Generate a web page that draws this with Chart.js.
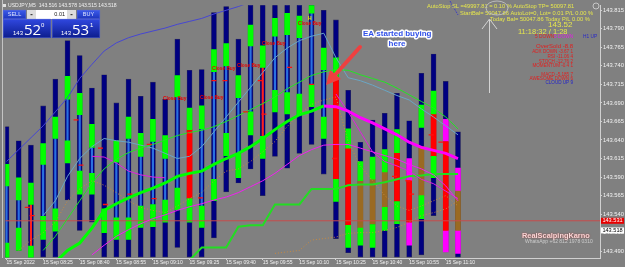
<!DOCTYPE html>
<html>
<head>
<meta charset="utf-8">
<script src="https://cdn.jsdelivr.net/npm/chart.js@4.4.0/dist/chart.umd.min.js"></script>
<style>
html,body{margin:0;padding:0;background:#808080;overflow:hidden;}
#wrap{width:625px;height:267px;}
</style>
</head>
<body>
<div id="wrap"><canvas id="chart" width="625" height="267"></canvas></div>
<script>
const _ = null;
// USDJPY M5, bars 08:10 .. 11:15, one every 5 minutes
const tickLabels = ['15 Sep 2022','15 Sep 08:25','15 Sep 08:40','15 Sep 08:55','15 Sep 09:10','15 Sep 09:25',
  '15 Sep 09:40','15 Sep 09:55','15 Sep 10:10','15 Sep 10:25','15 Sep 10:40','15 Sep 10:55','15 Sep 11:10'];
const priceTicks = [143.815,143.790,143.765,143.740,143.715,143.690,143.665,143.640,143.615,143.590,143.565,143.540,143.515,143.490];

// navy histogram range
const high = [143.658,143.639,143.633,143.686,143.722,143.774,143.754,143.710,143.728,143.690,143.722,143.699,143.718,143.695,143.776,143.734,143.735,143.812,143.820,143.776,
  143.824,143.822,143.822,143.824,143.824,143.824,143.815,143.802,143.707,143.637,143.667,143.676,143.703,143.666,143.730,143.756,143.719,143.651];
const low = [143.482,143.491,143.482,143.482,143.482,143.559,143.518,143.529,143.482,143.482,143.482,143.482,143.482,143.482,143.495,143.482,143.482,143.508,143.570,143.582,
  143.601,143.565,143.618,143.602,143.622,143.634,143.594,143.507,143.488,143.482,143.482,143.482,143.482,143.482,143.485,143.538,143.489,143.482];
// green blocks (upper and lower)
const upHi = [143.607,143.589,143.582,143.635,143.671,143.726,143.703,143.661,_,143.639,143.671,143.649,143.668,143.646,143.727,143.683,143.686,143.762,143.770,143.727,
  143.795,143.767,143.804,143.811,143.807,143.824,143.764,143.751,143.655,143.611,143.617,143.627,143.654,_,143.687,143.706,_,_];
const upLo = [143.578,143.559,143.553,143.607,143.642,143.695,143.674,143.630,_,143.610,143.642,143.618,143.638,143.615,143.698,143.654,143.655,143.732,143.740,143.697,
  143.767,143.738,143.780,143.782,143.778,143.811,143.735,143.722,143.629,143.585,143.587,143.597,143.623,_,143.657,143.675,_,_];
const dnHi = [143.501,143.521,143.497,143.537,143.547,143.639,143.598,143.595,143.547,143.535,143.535,143.551,143.553,143.559,143.575,143.561,143.551,143.587,143.649,143.621,
  143.678,143.645,143.707,143.704,143.702,143.714,143.671,143.587,143.525,143.521,143.526,143.549,143.557,_,143.565,143.618,_,_];
const dnLo = [143.482,143.491,143.482,143.506,143.517,143.609,143.567,143.567,143.515,143.506,143.506,143.522,143.523,143.529,143.546,143.529,143.522,143.558,143.619,143.589,
  143.647,143.615,143.678,143.675,143.674,143.685,143.642,143.557,143.495,143.498,143.495,143.518,143.527,_,143.534,143.589,_,_];
// red, brown and magenta blocks
const redIdx = [15,27,28,32,33,35,36];
const redHi = [143.654,143.722,143.629,143.623,143.585,143.675,143.638];
const redLo = [143.561,143.587,143.525,143.557,143.529,143.618,143.518];
const brownIdx = [29,30,31,34,37];
const brownHi = [143.585,143.587,143.597,143.631,143.571];
const brownLo = [143.521,143.526,143.549,143.565,143.518];
const magIdx = [33,36,37];
const magUpHi = [143.615,143.668,143.602];
const magUpLo = [143.585,143.638,143.571];
const magDnHi = [143.529,143.518,143.518];
const magDnLo = [143.498,143.489,143.487];

// indicator lines (first bar index noted)
const blueMA = [143.611,143.627,143.643,143.659,143.678,143.697,143.723,143.742,143.760,143.771,143.778,143.783,143.787,143.791,143.796,143.800,143.804,143.810,143.815,143.820,143.826]; // 0
const bandUpper = [143.491,143.510,143.534,143.558,143.582,143.601,143.614,143.623,143.629,143.634,143.640,143.646,143.650,143.653,143.658,143.665,143.673,143.681,143.689,143.698,
  143.709,143.718,143.727,143.732,143.735,143.734,143.728,143.723,143.718,143.710,143.701,143.692,143.683,143.671,143.655]; // 3
const maGreen = [143.475,143.491,143.501,143.521,143.545,143.554,143.562,143.569,143.575,143.582,143.591,143.595,143.598,143.607,143.615,143.622,143.631,143.642,143.654,143.665,
  143.674,143.679,143.686]; // 4
const maMagenta = [143.686,143.685,143.679,143.670,143.663,143.655,143.647,143.637,143.630,143.626,143.622,143.615]; // 26
const lowerCurve = [143.485,143.498,143.510,143.519,143.527,143.534,143.539,143.545,143.550,143.554,143.559,143.563,143.569,143.577,143.585,143.595,143.607,143.619,143.627,143.633,
  143.634,143.634,143.629,143.624,143.619,143.614,143.607,143.601,143.593,143.578,143.558]; // 7
const magThinA = [143.618,143.617,143.609,143.598,143.593,143.590,143.589]; // 7
const magThinB = [143.702,143.678,143.651,143.624,143.611,143.605,143.598,143.587,143.581,143.571,143.561]; // 27
const stepLine = [143.478,143.495,143.495,143.495,143.523,143.525,143.525,143.553,143.553,143.553,143.574,143.574,143.574,143.579,143.580,143.580,143.583,143.587,143.591,143.592,
  143.594,143.594,143.594]; // 15
const tealLine = [143.538,143.558,143.591,143.615,143.631,143.642,143.639,143.637,143.633,143.629,143.622,143.615,143.618,143.631,143.651,143.671,143.691,143.711,143.731,143.751,
  143.764,143.774,143.780,143.784,143.751,143.724,143.720,143.714,143.707,143.700,143.694,143.682,143.671,143.659,143.647]; // 3
const dotA = [143.491,143.505,143.515,143.529,143.558,143.574,143.585,143.579,143.569,143.558,143.549,143.545,143.542,143.551,143.561,143.569,143.585,143.598,143.601,143.611,
  143.624,143.638,143.658,143.675,143.688,143.694,143.698,143.638,143.605,143.585,143.565,143.551,143.545,143.551,143.558,143.565,143.551]; // 1
const dotB = [143.487,143.489,143.491,143.505,143.507,143.509,143.514,143.515,143.515,143.518,143.522,143.529,143.538,143.542,143.547,143.558]; // 22
// order level dashes
const dashX = [1.7,2.1,5.7,6.1,7.7,8.1,10.1,11.7,12.1,15.0,15.9,17.0,17.9,19.6,20.8,21.1,23.2,25.0,26.9,31.8,32.9,33.2,34.8,35.6];
const dashY = [143.549,143.538,143.667,143.606,143.629,143.553,143.567,143.634,143.561,143.649,143.562,143.720,143.720,143.678,143.720,143.675,143.738,143.715,143.615,143.591,
  143.585,143.567,143.647,143.637];
const askPrice = 143.531;
const bidPrice = 143.518;

const redInner = [2, 21];

function spans(hi, lo) {
	const out = [];
	hi.forEach((h, i) => { if (h != null && lo[i] != null) out.push({x: i, y: [lo[i], h]}); });
	return out;
}
function spansAt(idx, hi, lo) {
	return idx.map((x, k) => ({x: x, y: [lo[k], hi[k]]}));
}
function series(start, vals) {
	return vals.map((v, i) => ({x: start + i, y: v}));
}
function barSet(data, color, order, thick) {
	return {type: 'bar', data: data, backgroundColor: color, borderWidth: 0, grouped: false,
		barThickness: thick || 5, borderSkipped: false, order: order};
}
function lineSet(data, color, width, order, dash) {
	return {type: 'line', data: data, borderColor: color, borderWidth: width, pointRadius: 0,
		fill: false, tension: 0, borderDash: dash || [], order: order, spanGaps: false};
}

// thin body line between the green blocks
const innerHi = upLo.map((v, i) => (v != null && dnHi[i] != null && !redIdx.includes(i) && !brownIdx.includes(i)) ? v : null);

const overlay = {
	id: 'overlay',
	beforeDraw(chart) {
		const c = chart.ctx;
		c.save();
		c.fillStyle = '#808080';
		c.fillRect(0, 0, chart.width, chart.height);
		c.restore();
	},
	afterDraw(chart) {
		const c = chart.ctx;
		const ys = chart.scales.y;
		c.save();
		function t(s, x, y, font, color, align) {
			c.font = font; c.fillStyle = color; c.textAlign = align || 'left'; c.textBaseline = 'middle';
			c.fillText(s, x, y);
		}
		// left border
		c.strokeStyle = '#c4c4c4'; c.lineWidth = 1;
		c.beginPath(); c.moveTo(2.5, 0); c.lineTo(2.5, 258); c.stroke();

		// Close Buy labels
		[[163,99],[200,98],[212,69],[237,66],[262,44],[298,24]].forEach(p => t('Close Buy', p[0], p[1], 'bold 4.8px "Liberation Sans"', '#e80000'));
		t('H', 308, 19, 'bold 5px "Liberation Sans"', '#f0f000');

		// EA annotation
		c.font = 'bold 8px "Liberation Sans"'; c.textBaseline = 'middle'; c.textAlign = 'left';
		c.lineJoin = 'round'; c.strokeStyle = '#ffffff'; c.lineWidth = 3;
		c.strokeText('EA started buying', 363, 34); c.fillStyle = '#3050e8'; c.fillText('EA started buying', 363, 34);
		c.textAlign = 'center';
		c.strokeText('here', 397, 44); c.fillText('here', 397, 44);
		c.strokeStyle = '#ee4040'; c.lineWidth = 4; c.lineCap = 'round';
		c.beginPath(); c.moveTo(360, 47); c.lineTo(335, 75); c.stroke();
		c.fillStyle = '#ee4040'; c.beginPath();
		c.moveTo(326, 85); c.lineTo(330, 70); c.lineTo(341, 79); c.closePath(); c.fill();
		c.lineCap = 'butt';

		// trend segment near top right
		c.strokeStyle = '#4040c0'; c.lineWidth = 1; c.setLineDash([2, 1]);
		c.beginPath(); c.moveTo(450, 1); c.lineTo(458, 15); c.stroke(); c.setLineDash([]);

		// EA info block
		const yel = '#e6e64c';
		t('AutoStop SL =49997.81 = 0.10 % AutoStop TP= 50097.81', 427, 6, '5.7px "Liberation Sans"', yel);
		t('StartBal= 50047.86 AutoLot=0, Lot= 0.01 P/L 0.00 %', 460, 13, '5.7px "Liberation Sans"', yel);
		t('Today Bal= 50047.86 Today P/L 0.00 %', 490, 19, '5.7px "Liberation Sans"', yel);
		c.strokeStyle = '#d8d8d8'; c.lineWidth = 0.8;
		c.beginPath(); c.arc(596, 6, 3, 0, Math.PI * 2); c.stroke();
		c.strokeStyle = '#bcbcbc'; c.lineWidth = 1;
		c.beginPath(); c.ellipse(497, 8, 11, 7, 0, 0, Math.PI * 2); c.stroke();
		c.strokeStyle = '#d4d4d4';
		c.beginPath(); c.moveTo(489.5, 20); c.lineTo(489.5, 93); c.stroke();
		c.beginPath(); c.moveTo(482, 29); c.lineTo(489.5, 19); c.lineTo(497, 29); c.stroke();
		t('143.52', 548, 25, '8px "Liberation Sans"', yel);
		t('11:18:32 / 1:28', 518, 32, '7.5px "Liberation Sans"', yel);
		t('5 DOWN', 535, 37, '4.8px "Liberation Sans"', '#e02020');
		t('5 DOWN', 554, 37, '4.8px "Liberation Sans"', '#e020e0');
		t('H1 UP', 583, 37, '4.8px "Liberation Sans"', '#2828c8');
		t('OverSold -8.8', 573, 46, '6px "Liberation Sans"', '#e02020', 'right');
		const ind = [['ADX DOWN -3.67 1',52],['RSI -11.06 4',57],['STOCH -12.76 2',62],['MOMENTUM -0.4 1',66],['MACD -5.185 7',75],['AWESOME DOWN 6',79]];
		ind.forEach(r => t(r[0], 573, r[1], '4.6px "Liberation Sans"', '#e02020', 'right'));
		t('CLOUD UP 9', 573, 83, '4.6px "Liberation Sans"', '#2424c8', 'right');

		// watermark
		c.shadowColor = '#a03030'; c.shadowBlur = 1.5;
		t('RealScalpingKarno', 522, 236, 'bold 7.4px "Liberation Sans"', '#f6d8d8');
		c.shadowBlur = 0;
		t('WhatsApp +62 812 1978 0310', 525, 242, '5px "Liberation Sans"', '#cccccc');

		// price labels on the axis
		const ya = ys.getPixelForValue(askPrice), yb = ys.getPixelForValue(bidPrice);
		c.fillStyle = '#e80000'; c.fillRect(601, ya - 3, 23, 6);
		t(askPrice.toFixed(3), 612.5, ya, '5.6px "Liberation Sans"', '#ffffff', 'center');
		c.fillStyle = '#ffffff'; c.fillRect(601, yb - 3, 23, 6);
		t(bidPrice.toFixed(3), 612.5, yb, '5.6px "Liberation Sans"', '#000000', 'center');

		// title
		c.fillStyle = '#e0e0e0'; c.fillRect(3, 4, 3, 3);
		t('USDJPY,M5  143.516 143.578 143.515 143.518', 8, 5.5, '5.1px "Liberation Sans"', '#f0f0f0');

		// one click trading panel
		function btn(x, y, w, h, top, bot) {
			const g = c.createLinearGradient(0, y, 0, y + h);
			g.addColorStop(0, top); g.addColorStop(1, bot);
			c.fillStyle = g; c.fillRect(x, y, w, h);
			c.strokeStyle = '#5a6ad0'; c.lineWidth = 0.6; c.strokeRect(x + 0.3, y + 0.3, w - 0.6, h - 0.6);
		}
		btn(3, 10, 23, 9, '#3c5cec', '#1c34bc');
		btn(77, 10, 23, 9, '#3c5cec', '#1c34bc');
		c.fillStyle = '#dcdcdc'; c.fillRect(27, 10, 9, 9); c.fillRect(67, 10, 9, 9);
		c.fillStyle = '#ffffff'; c.fillRect(36, 10, 31, 9);
		c.fillStyle = '#404040'; c.fillRect(30.5, 14, 2, 1.2); c.fillRect(70.5, 14, 2, 1.2);
		t('SELL', 14.5, 14.7, '5.5px "Liberation Sans"', '#dfe6ff', 'center');
		t('BUY', 88.5, 14.7, '5.5px "Liberation Sans"', '#dfe6ff', 'center');
		t('0.01', 65, 14.7, '5.5px "Liberation Sans"', '#202020', 'right');
		btn(3, 19, 48, 19, '#3048e0', '#0c1c8c');
		btn(52, 19, 48, 19, '#3048e0', '#0c1c8c');
		c.fillStyle = '#ffffff'; c.textAlign = 'left'; c.textBaseline = 'alphabetic';
		c.font = '6px "Liberation Sans"'; c.fillText('143', 13, 35); c.fillText('143', 61, 35);
		c.font = '15px "Open Sans"'; c.fillText('52', 24, 35); c.fillText('53', 72, 35);
		c.font = '6px "Liberation Sans"'; c.fillText('0', 41, 27); c.fillText('1', 90, 27);
		c.restore();
	}
};

new Chart(document.getElementById('chart'), {
	type: 'bar',
	data: {
		datasets: [
			Object.assign(lineSet(dashX.map((x, i) => ({x: x, y: dashY[i]})), '#ff1010', 1.5, 1), {
				showLine: false, pointStyle: 'line', pointRadius: 2.5, pointBorderWidth: 1.3, pointBorderColor: '#ff1010'
			}),
			lineSet(series(0, blueMA), '#4646d2', 1, 2),
			lineSet(series(3, bandUpper), '#22e622', 1, 2),
			lineSet(series(4, maGreen), '#00ff00', 3, 2),
			lineSet(series(26, maMagenta), '#ff00ff', 3, 2),
			lineSet(series(7, lowerCurve), '#f020f0', 1, 2),
			lineSet(series(7, magThinA), '#e020e0', 1, 2),
			lineSet(series(27, magThinB), '#e020e0', 1, 2),
			lineSet(series(15, stepLine), '#22dd22', 2, 2),
			lineSet(series(3, tealLine), '#6aa6c4', 1, 3),
			lineSet(series(1, dotA), '#c88a40', 1, 3, [1, 2]),
			lineSet(series(22, dotB), '#c88a40', 1, 3, [1, 2]),
			lineSet([{x: -0.1, y: askPrice}, {x: 48.64, y: askPrice}], '#c84a4a', 1, 3),
			barSet(spans(upHi, upLo), '#00ff00', 5),
			barSet(spans(dnHi, dnLo), '#00ff00', 5),
			barSet(spansAt(redIdx, redHi, redLo), '#ff0000', 5),
			barSet(spansAt(brownIdx, brownHi, brownLo), '#9a6a22', 5),
			barSet(spansAt(magIdx, magUpHi, magUpLo), '#ff00ff', 5),
			barSet(spansAt(magIdx, magDnHi, magDnLo), '#ff00ff', 5),
			Object.assign(barSet(spans(innerHi, dnHi), '#2a70e0', 6, 1.5), {
				backgroundColor: ctx => (ctx.raw && redInner.includes(ctx.raw.x)) ? '#ff2020' : '#2a70e0'
			}),
			Object.assign(barSet(spans(high, low), '#000080', 10), {borderWidth: 0.6, borderColor: '#2c2c58'})
		]
	},
	options: {
		responsive: false,
		animation: false,
		devicePixelRatio: 1,
		events: [],
		layout: {padding: {left: 2, top: 2, right: 0, bottom: 0}},
		plugins: {legend: {display: false}, tooltip: {enabled: false}},
		scales: {
			x: {
				type: 'linear', min: -0.1, max: 48.64, offset: false,
				afterBuildTicks: s => { s.ticks = tickLabels.map((l, i) => ({value: i * 3})); },
				afterFit: s => { s.height = 9; },
				ticks: {
					callback: (v, i) => tickLabels[i], align: 'start', autoSkip: false, maxRotation: 0,
					font: {family: 'Liberation Sans', size: 5}, color: '#f2f2f2', padding: 0
				},
				grid: {drawOnChartArea: false, offset: false, tickLength: 2, color: '#d0d0d0'},
				border: {color: '#d0d0d0'}
			},
			y: {
				position: 'right', min: 143.4808, max: 143.8217, beginAtZero: false,
				afterBuildTicks: s => { s.ticks = priceTicks.map(v => ({value: v})); },
				afterFit: s => { s.width = 25; },
				ticks: {
					callback: v => v.toFixed(3), autoSkip: false,
					font: {family: 'Liberation Sans', size: 5.8}, color: '#f2f2f2', padding: 1
				},
				grid: {drawOnChartArea: false, tickLength: 2, color: '#d0d0d0'},
				border: {color: '#d0d0d0'}
			}
		}
	},
	plugins: [overlay]
});
</script>
</body>
</html>
